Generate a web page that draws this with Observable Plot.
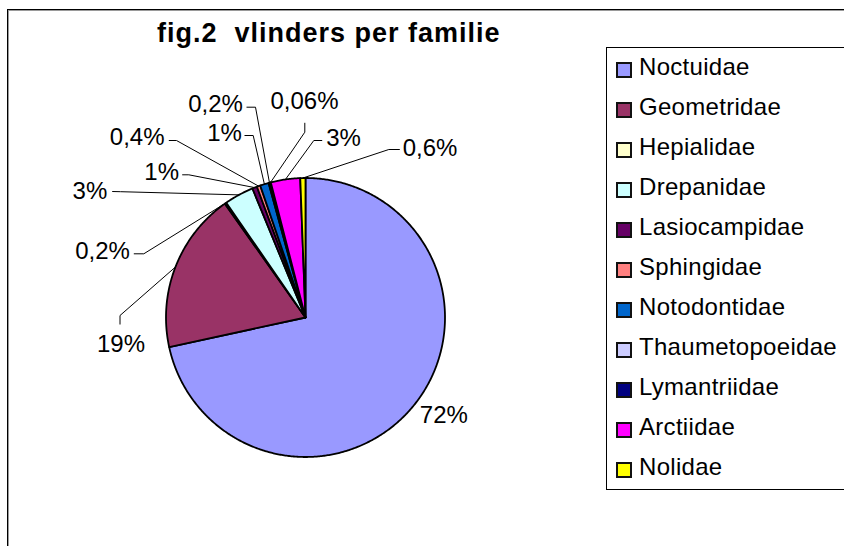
<!DOCTYPE html>
<html><head><meta charset="utf-8">
<script src="https://cdn.jsdelivr.net/npm/d3@7"></script>
<script src="https://cdn.jsdelivr.net/npm/@observablehq/plot@0.6"></script>
<style>
html,body{margin:0;padding:0;background:#fff;overflow:hidden}
#wrap{position:relative;width:844px;height:546px;overflow:hidden;font-family:"Liberation Sans",Arial,sans-serif;background:#fff}
#frame{position:absolute;left:7px;top:9px;width:2000px;height:2000px;border-left:1px solid #000;border-top:1px solid #000;box-shadow:inset 1px 1px 0 #9a9a9a}
#chart{position:absolute;left:0;top:0}
#title{position:absolute;left:157px;top:20px;font-size:27px;line-height:27px;font-weight:bold;letter-spacing:1px;white-space:pre;color:#000}
#legend{position:absolute;left:606px;top:47px;width:2000px;height:441px;border-left:1px solid #000;border-top:1px solid #000;border-bottom:1px solid #000}
.sw{position:absolute;left:9px;width:12px;height:12px;border:2px solid #111}
.lt{position:absolute;left:32px;font-size:24px;line-height:24px;letter-spacing:0.3px;white-space:nowrap;color:#000}
</style>
</head><body>
<div id="wrap">
  <div id="frame"></div>
  <div id="chart"></div>
  <div id="title"></div>
  <div id="legend"></div>
</div>
<script>
// ---- data ----
const families = ["Noctuidae","Geometridae","Hepialidae","Drepanidae","Lasiocampidae","Sphingidae","Notodontidae","Thaumetopoeidae","Lymantriidae","Arctiidae","Nolidae"];
const shares   = [71.6, 18.6, 0.2, 3.4, 0.55, 0.4, 1.0, 0.2, 0.06, 3.4, 0.6];
const labels   = ["72%","19%","0,2%","3%","1%","0,4%","1%","0,2%","0,06%","3%","0,6%"];
const colors   = ["#9999FF","#993366","#FFFFCC","#CCFFFF","#660066","#FF8080","#0066CC","#CCCCFF","#000080","#FF00FF","#FFFF00"];
const titleText = "fig.2  vlinders per familie";

// ---- layout (pixels) ----
const W = 844, H = 546;
const CX = 305, CY = 317, R = 139.5;
// label text centre and leader start/elbow points
const labelLayout = [
  {x: 443.3, y: 415, leader: null},
  {x: 120.5, y: 344, leader: [119.5, 324, 119.5, 315]},
  {x: 102,   y: 251, leader: [133.3, 253.3, 143.3, 253.3]},
  {x: 89.4,  y: 191, leader: [111.7, 191, 120, 191.2]},
  {x: 161.2, y: 172, leader: [181.7, 174.3, 188.3, 174.3]},
  {x: 136.7, y: 137, leader: [168.3, 140, 176, 140]},
  {x: 224,   y: 133, leader: [244, 135, 252.7, 135]},
  {x: 215,   y: 104, leader: [246, 106.7, 255, 106.7]},
  {x: 304,   y: 101, leader: [304.3, 122.3, 304.3, 131.7]},
  {x: 343,   y: 137.5, leader: [321.7, 140, 313.3, 140]},
  {x: 429.5, y: 148, leader: [399.3, 149, 388.3, 149]}
];

const rows = families.map((name, i) => ({name, share: shares[i], label: labels[i], color: colors[i]}));
const arcs = d3.pie().sort(null).value(d => d.share).startAngle(0).endAngle(2 * Math.PI)(rows);
const pt = (a, r) => [CX + r * Math.sin(a), CY - r * Math.cos(a)];

// slice outlines (centre -> arc -> centre)
const slicePts = [];
arcs.forEach(a => {
  const n = Math.max(2, Math.ceil((a.endAngle - a.startAngle) / (Math.PI / 360)));
  slicePts.push({name: a.data.name, x: CX, y: CY});
  for (let k = 0; k <= n; k++) {
    const t = a.startAngle + (a.endAngle - a.startAngle) * k / n;
    const [x, y] = pt(t, R);
    slicePts.push({name: a.data.name, x, y});
  }
  slicePts.push({name: a.data.name, x: CX, y: CY});
});

// leader lines: label -> elbow -> slice edge at mid angle
const leaderPts = [];
arcs.forEach((a, i) => {
  const L = labelLayout[i].leader;
  if (!L) return;
  const [ex, ey] = pt((a.startAngle + a.endAngle) / 2, R);
  leaderPts.push({name: a.data.name, x: L[0], y: L[1]});
  leaderPts.push({name: a.data.name, x: L[2], y: L[3]});
  leaderPts.push({name: a.data.name, x: ex, y: ey});
});

const textPts = arcs.map((a, i) => ({label: a.data.label, x: labelLayout[i].x, y: labelLayout[i].y}));

const chart = Plot.plot({
  width: W, height: H,
  margin: 0,
  style: {background: "transparent", overflow: "visible"},
  x: {type: "linear", domain: [0, W], range: [0, W], axis: null},
  y: {type: "linear", domain: [0, H], range: [0, H], axis: null},
  color: {type: "ordinal", domain: families, range: colors},
  marks: [
    Plot.line(slicePts, {x: "x", y: "y", z: "name", fill: "name", stroke: "#000", strokeWidth: 1.8, strokeLinejoin: "round"}),
    Plot.line(leaderPts, {x: "x", y: "y", z: "name", stroke: "#000", strokeWidth: 1, strokeLinejoin: "miter", strokeLinecap: "butt"}),
    Plot.text(textPts, {x: "x", y: "y", text: "label", fontSize: 24, fontFamily: "Liberation Sans, Arial, sans-serif", fill: "#000", textAnchor: "middle"})
  ]
});
document.getElementById("chart").appendChild(chart);

document.getElementById("title").textContent = titleText;

const legend = document.getElementById("legend");
families.forEach((name, i) => {
  const sw = document.createElement("div");
  sw.className = "sw";
  sw.style.top = (14 + 40 * i) + "px";
  sw.style.background = colors[i];
  legend.appendChild(sw);
  const t = document.createElement("div");
  t.className = "lt";
  t.style.top = (6.7 + 40 * i) + "px";
  t.textContent = name;
  legend.appendChild(t);
});
</script>
</body></html>
